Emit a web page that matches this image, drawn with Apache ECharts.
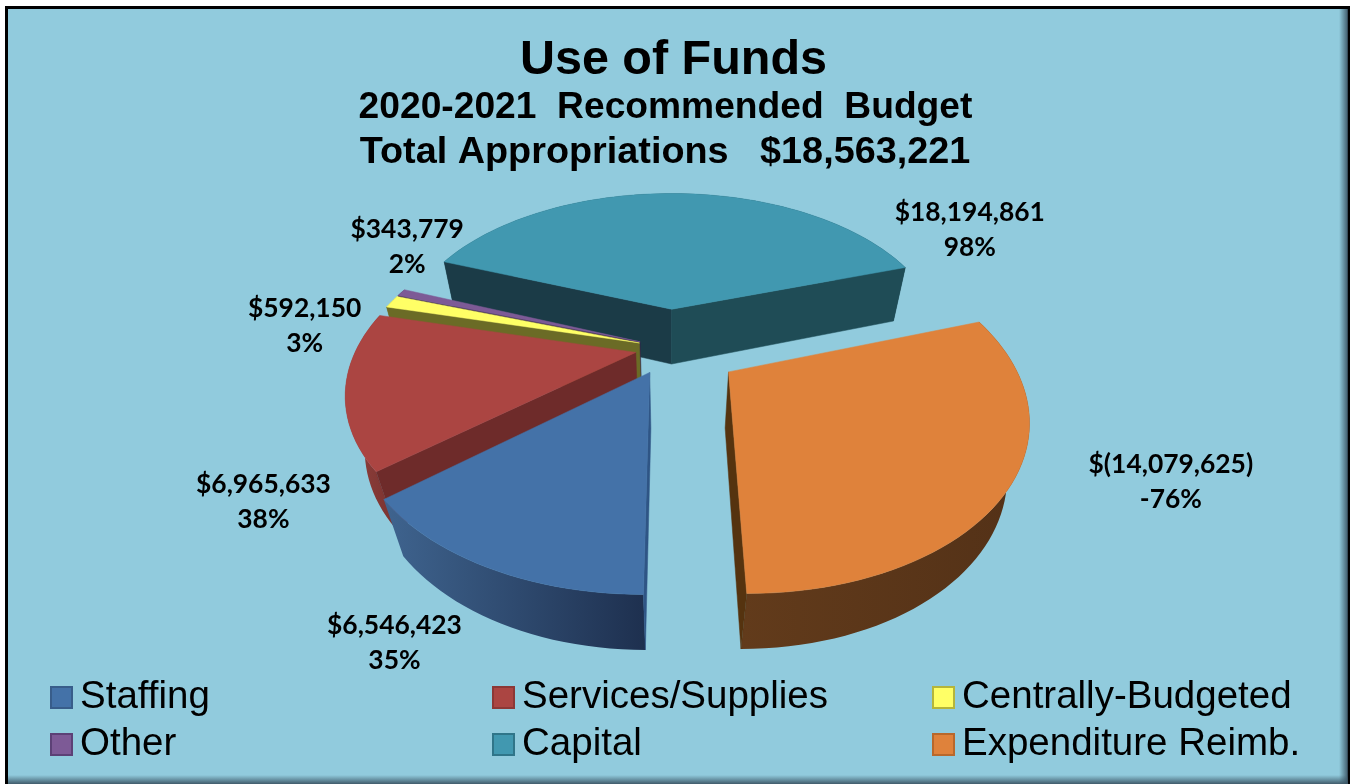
<!DOCTYPE html>
<html>
<head>
<meta charset="utf-8">
<title>Use of Funds</title>
<style>html,body{margin:0;padding:0;background:#fff}#chart{width:1351px;height:784px}</style>
<script src="https://cdn.jsdelivr.net/npm/echarts@6/dist/echarts.min.js"></script>
</head>
<body>
<div id="chart"></div>
<script>
// Budget figures
const categories = ['Staffing', 'Services/Supplies', 'Centrally-Budgeted', 'Other', 'Capital', 'Expenditure Reimb.'];
const amounts = [6546423, 6965633, 592150, 343779, 18194861, -14079625];
const titleLines = ['Use of Funds', '2020-2021  Recommended  Budget', 'Total Appropriations   $18,563,221'];

// Slice appearance, in the same order as the categories
const topColors = ['#4472a8', '#ab4542', '#ffff66', '#7d5a96', '#4198b0', '#df823b'];
const legendBorders = ['#385d8a', '#8c3836', '#b5b53a', '#5c4176', '#2f7589', '#b8682b'];
const wallStops = [['#3f648f', '#1e304f'], ['#92403c', '#7a3330'], ['#8a8a30', '#6b6b26'], ['#4a3560', '#3a2850'], ['#1f4c56', '#1b3b47'], ['#623b1b', '#533117']];
const cutColors = [['#2f5585', '#1f3350'], ['#6e2b2a', '#6e2b2a'], ['#6b6b26', '#6b6b26'], ['#33224a', '#33224a'], ['#1b3b47', '#1f4c56'], ['#55330f', '#55330f']];
const explode = [0.165, 0.125, 0.115, 0.115, 0.26, 0.25];
const paintOrder = [6, 5, 4, 3, 2, 7];
const labelOffsets = [[-93, 75], [-82, 112], [-87, 24], [6, -46], [293, 36], [161, -5]];

// Perspective view of the pie: tilted disc with a wall below it
const view = {cx: 670, cy: 348, sx: 279, sy: 158, k: 0.229, drop: 59, recede: 0.06, startDeg: 180};

function project(u, v, lower) {
  const w = 1 - view.k * v + (lower ? view.recede : 0);
  return [view.cx + view.sx * u / w, view.cy + (view.sy * v + (lower ? view.drop : 0)) / w];
}

const magnitudes = amounts.map(Math.abs);
const magnitudeSum = magnitudes.reduce((a, b) => a + b, 0);
const appropriations = amounts.reduce((a, b) => a + b, 0);

// Clockwise start and end angle of every slice, from the absolute amounts
const sweeps = [];
magnitudes.reduce((start, m) => {
  const end = start + m / magnitudeSum * 360;
  sweeps.push([start, end]);
  return end;
}, view.startDeg);

function money(v) {
  const s = Math.abs(v).toLocaleString('en-US');
  return v < 0 ? '$(' + s + ')' : '$' + s;
}

function renderSlice(index, params, api) {
  const [a0, a1] = sweeps[index];
  const toRad = Math.PI / 180;
  const mid = (a0 + a1) / 2 * toRad;
  const ex = Math.sin(mid) * explode[index];
  const ev = -Math.cos(mid) * explode[index];
  const rim = [];
  const steps = Math.max(2, Math.ceil((a1 - a0) / 2));
  for (let i = 0; i <= steps; i++) {
    const t = (a0 + (a1 - a0) * i / steps) * toRad;
    rim.push([ex + Math.sin(t), ev - Math.cos(t)]);
  }
  const topRim = rim.map(p => project(p[0], p[1], false));
  const lowRim = rim.map(p => project(p[0], p[1], true));
  const apexTop = project(ex, ev, false);
  const apexLow = project(ex, ev, true);
  const children = [];
  const poly = (points, fill) => ({
    type: 'polygon',
    shape: {points},
    style: {fill, stroke: typeof fill === 'string' ? fill : null, lineWidth: 0.5}
  });
  const area = pts => pts.reduce((s, p, i) => {
    const q = pts[(i + 1) % pts.length];
    return s + p[0] * q[1] - q[0] * p[1];
  }, 0);

  // Outer wall first, the disc face hides whatever part of it faces away
  children.push(poly(topRim.concat(lowRim.slice().reverse()), {
    type: 'linear', x: 0, y: 0, x2: 1, y2: 0,
    colorStops: [{offset: 0, color: wallStops[index][0]}, {offset: 1, color: wallStops[index][1]}]
  }));

  // Radial cut faces, only when turned toward the viewer
  const startFace = [apexTop, topRim[0], lowRim[0], apexLow];
  const endFace = [apexTop, apexLow, lowRim[steps], topRim[steps]];
  if (area(startFace) < 0) children.push(poly(startFace, cutColors[index][0]));
  if (area(endFace) < 0) children.push(poly(endFace, cutColors[index][1]));

  // Top face
  children.push(poly([apexTop].concat(topRim), topColors[index]));

  // Value and percentage label
  const anchor = project(ex + Math.sin(mid), ev - Math.cos(mid), false);
  const value = api.value(0);
  children.push({
    type: 'text',
    style: {
      text: money(value) + '\n' + Math.round(value / appropriations * 100) + '%',
      x: anchor[0] + labelOffsets[index][0],
      y: anchor[1] + labelOffsets[index][1],
      align: 'center',
      verticalAlign: 'middle',
      lineHeight: 35,
      fontFamily: 'Lato',
      fontWeight: 'bold',
      fontSize: 26.4,
      fill: '#000'
    }
  });
  return {type: 'group', children};
}

const legendColumns = [[0, 3, 45], [1, 4, 487], [2, 5, 927]];
const titleTops = [31, 84, 129];
const titleSizes = [48.5, 37.2, 37.8];
const titleCenters = [668.5, 660.5, 660];

const chart = echarts.init(document.getElementById('chart'), null, {renderer: 'canvas'});
chart.setOption({
  animation: false,
  backgroundColor: '#fff',
  graphic: {
    elements: [
      {type: 'rect', z: 0, shape: {x: 6.5, y: 7.5, width: 1342, height: 790}, style: {fill: '#91cbdd', stroke: '#000', lineWidth: 3}},
      {type: 'rect', z: 1, shape: {x: 1339, y: 9, width: 9, height: 775}, style: {fill: {type: 'linear', x: 0, y: 0, x2: 1, y2: 0, colorStops: [{offset: 0, color: 'rgba(60,90,105,0)'}, {offset: 1, color: 'rgba(60,85,100,0.95)'}]}}},
      {type: 'rect', z: 1, shape: {x: 8, y: 775, width: 1340, height: 9}, style: {fill: {type: 'linear', x: 0, y: 0, x2: 0, y2: 1, colorStops: [{offset: 0, color: 'rgba(60,90,105,0)'}, {offset: 1, color: 'rgba(60,85,100,0.95)'}]}}}
    ]
  },
  title: titleLines.map((text, i) => ({
    text,
    left: titleCenters[i],
    top: titleTops[i],
    textAlign: 'center',
    textStyle: {fontFamily: 'Liberation Sans', fontWeight: 'bold', fontSize: titleSizes[i], color: '#000'}
  })),
  legend: legendColumns.map(([first, second, left]) => ({
    orient: 'vertical',
    left,
    top: 669,
    data: [categories[first], categories[second]].map(name => {
      const i = categories.indexOf(name);
      return {name, icon: 'rect', itemStyle: {color: topColors[i], borderColor: legendBorders[i], borderWidth: 2}};
    }),
    itemWidth: 21,
    itemHeight: 21,
    itemGap: 0,
    selectedMode: false,
    textStyle: {fontFamily: 'Liberation Sans', fontSize: 38.5, lineHeight: 47, color: '#000', padding: [0, 0, 0, 3]}
  })),
  series: categories.map((name, index) => ({
    type: 'custom',
    name,
    coordinateSystem: 'none',
    z: paintOrder[index] + 2,
    silent: true,
    itemStyle: {color: topColors[index]},
    data: [amounts[index]],
    renderItem: (params, api) => renderSlice(index, params, api)
  }))
});
</script>
</body>
</html>
